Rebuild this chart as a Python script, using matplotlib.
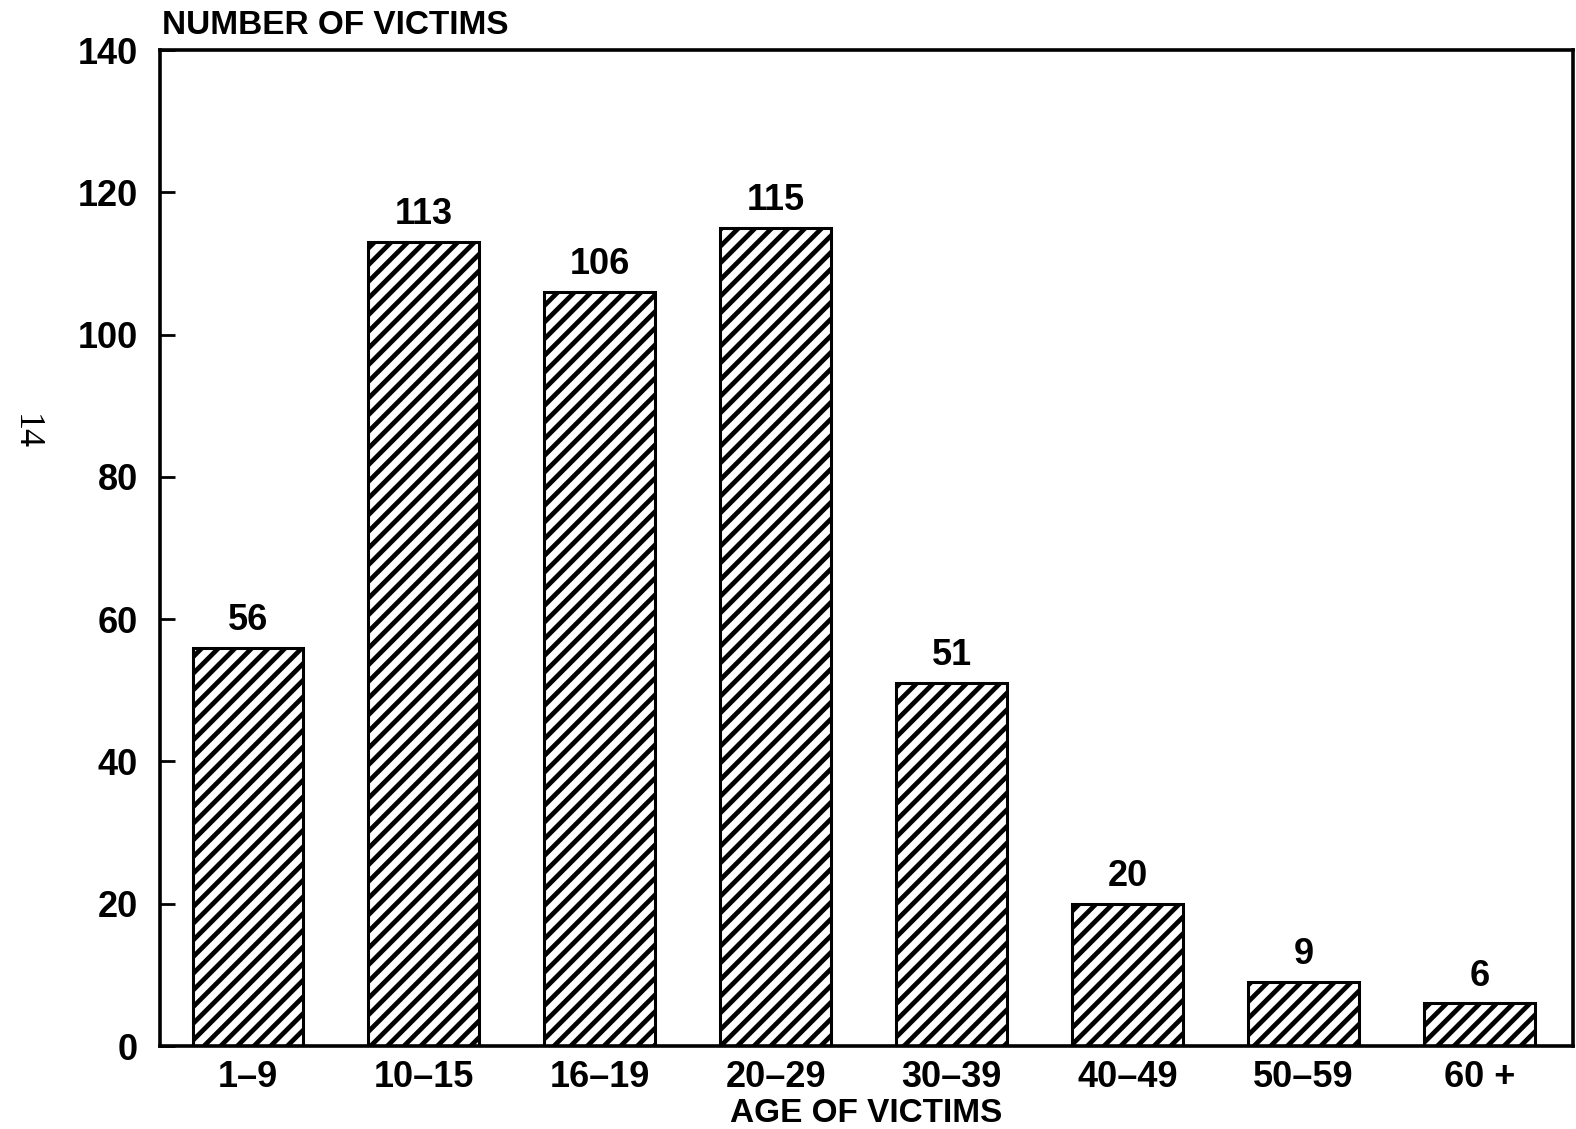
import matplotlib
matplotlib.use("Agg")
import matplotlib.pyplot as plt

# age groups and counts
age_groups = ['1\u20139', '10\u201315', '16\u201319', '20\u201329',
              '30\u201339', '40\u201349', '50\u201359', '60 +']
victims = [56, 113, 106, 115, 51, 20, 9, 6]
y_ticks = [0, 20, 40, 60, 80, 100, 120, 140]

plt.rcParams['font.family'] = ['Liberation Sans', 'DejaVu Sans']
plt.rcParams['font.weight'] = 'bold'
plt.rcParams['hatch.linewidth'] = 1.7
plt.rcParams['hatch.color'] = 'black'

fig = plt.figure(figsize=(7.88, 5.645), dpi=200)
ax = fig.add_axes([0.1015, 0.0735, 0.8965, 0.8822])

x = list(range(len(age_groups)))
bars = ax.bar(x, victims, width=0.63, facecolor='white', edgecolor='black',
              linewidth=1.1, hatch='////')

for b, v in zip(bars, victims):
    ax.annotate(str(v), (b.get_x() + b.get_width() / 2, v),
                xytext=(0, 3.5), textcoords='offset points',
                ha='center', va='bottom', fontsize=13, fontweight='bold')

ax.set_xlim(-0.5, 7.53)
ax.set_ylim(0, 140)
ax.set_yticks(y_ticks)
ax.set_xticks(x)
ax.set_xticklabels(age_groups)
ax.tick_params(axis='y', direction='in', length=5.5, width=1.0, pad=8, labelsize=13)
ax.tick_params(axis='x', length=0, pad=5, labelsize=13)
for s in ax.spines.values():
    s.set_linewidth(1.3)

ax.set_xlabel('AGE OF VICTIMS', fontsize=12, fontweight='bold', labelpad=1)
fig.text(0.1028, 0.977, 'NUMBER OF VICTIMS', fontsize=12, fontweight='bold',
         ha='left', va='center')

# page number printed sideways in the margin
fig.text(0.016, 0.617, '14', rotation=-90, fontsize=13,
         family='Liberation Serif', fontweight='normal', ha='center', va='center')

fig.savefig('out.png', dpi=200, facecolor='white')
